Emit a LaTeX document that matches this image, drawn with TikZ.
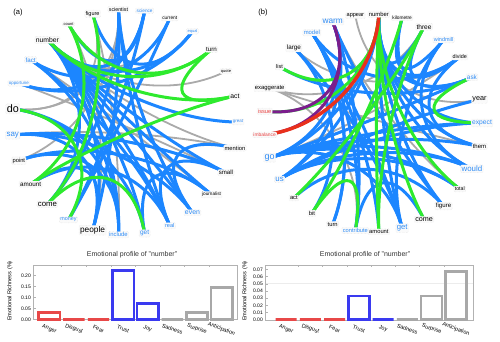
\documentclass[tikz,border=0pt]{standalone}
\usepackage{fontspec}
\setmainfont{Liberation Sans}
\usetikzlibrary{calc}
\definecolor{edgeb}{HTML}{1C86FF}
\definecolor{edgeg}{HTML}{2EEA2E}
\definecolor{edgey}{HTML}{AAAAAA}
\definecolor{edger}{HTML}{E8301C}
\definecolor{edgep}{HTML}{7B1E8C}
\definecolor{txtb}{HTML}{2F8CF5}
\definecolor{txtr}{HTML}{E84040}
\definecolor{barr}{HTML}{E84848}
\definecolor{barb}{HTML}{3A3AF0}
\definecolor{barg}{HTML}{A8A8A8}
\tikzset{
  eb/.style={edgeb,line width=3pt},
  eg/.style={edgeg,line width=3pt},
  ey/.style={edgey,line width=1.8pt},
  er/.style={edger,line width=3.5pt},
  ep/.style={edgep,line width=3pt},
  lab/.style={fill=gray!4,draw=gray!25,densely dotted,rounded corners=1pt,inner sep=1pt},
  barst/.style={line width=2.6pt},
  frm/.style={gray!60,line width=0.4pt},
  yl/.style={font=\fontsize{5}{5}\selectfont,anchor=east,inner sep=1pt},
  xl/.style={font=\fontsize{5.5}{5.5}\selectfont,rotate=-20,inner sep=0pt},
  ttl/.style={font=\fontsize{7}{7}\selectfont,text=black!80},
  yax/.style={font=\fontsize{5.6}{5.6}\selectfont,rotate=90}
}
\begin{document}
\begin{tikzpicture}[x=1pt,y=1pt]
\useasboundingbox (0,0) rectangle (500,341);
\coordinate (ca) at (125,219);
\coordinate (cb) at (373,218);
\foreach \k in {0,...,26} \path (ca) ++({\k*360/27}:113) coordinate (a\k);
\foreach \k in {0,...,28} \path (cb) ++({\k*360/29}:109) coordinate (b\k);
% panel (a)
\foreach \u/\v in {10/2,10/26,10/5,7/13,19/9,24/11,25/12,26/14,13/8,15/7,20/8}
  \draw[ey] (a\u) .. controls ($(a\u)!.55!(ca)$) and ($(a\v)!.55!(ca)$) .. (a\v);
\foreach \u/\v in {10/4,10/0,10/19,10/20,10/21,10/22,10/23,10/24,10/25,10/17,10/6,11/22,12/6,7/22,7/23,9/6,8/4,5/11,13/20,13/21,14/25,14/19,15/24,15/20,16/19,16/22,17/7,18/6,18/5,20/11,22/25,23/26,21/24,23/14,19/7,12/4}
  \draw[eb] (a\u) .. controls ($(a\u)!.55!(ca)$) and ($(a\v)!.55!(ca)$) .. (a\v);
\foreach \u/\v in {10/3,10/1,3/1,9/3,8/17,9/16,13/18,17/21,1/16}
  \draw[eg] (a\u) .. controls ($(a\u)!.55!(ca)$) and ($(a\v)!.55!(ca)$) .. (a\v);
% panel (b)
\foreach \u/\v in {8/1,13/5,11/3,3/16,28/13,13/21,9/26}
  \draw[ey] (b\u) .. controls ($(b\u)!.55!(cb)$) and ($(b\v)!.55!(cb)$) .. (b\v);
\foreach \u/\v in {7/5,7/3,7/2,7/0,7/27,7/23,7/25,7/28,7/16,7/17,6/4,6/2,5/3,10/21,10/20,10/23,9/16,9/17,9/21,11/19,16/28,16/27,16/0,17/27,17/26,18/25,21/24,23/16,23/11,22/10,25/9,27/4,28/3,26/16,0/17,3/10,2/16,1/17,20/10,23/4,12/2}
  \draw[eb] (b\u) .. controls ($(b\u)!.55!(cb)$) and ($(b\v)!.55!(cb)$) .. (b\v);
\foreach \u/\v in {12/7,14/7,7/22,7/24,18/5,19/6,26/7,2/0,19/21,22/5}
  \draw[eg] (b\u) .. controls ($(b\u)!.55!(cb)$) and ($(b\v)!.55!(cb)$) .. (b\v);
\foreach \u/\v in {9/14,9/15}
  \draw[ep] (b\u) .. controls ($(b\u)!.55!(cb)$) and ($(b\v)!.55!(cb)$) .. (b\v);
\draw[er] (b7) .. controls ($(b7)!.55!(cb)$) and ($(b15)!.55!(cb)$) .. (b15);
% word labels
\foreach \k/\w/\sz/\c in {0/great/4.4/txtb,1/act/6.8/black,2/quote/4/black,3/turn/6.2/black,4/equal/4/txtb,5/current/4.8/black,6/science/4.7/txtb,7/scientist/5.3/black,8/figure/5.5/black,9/count/4/black,10/number/6.8/black,11/fact/6.2/txtb,12/opportune/4.4/txtb,13/do/10.8/black,14/say/7.9/txtb,15/point/5.8/black,16/amount/6.3/black,17/come/7.8/black,18/money/5.4/txtb,19/people/8.3/black,20/include/5.9/txtb,21/get/6.5/txtb,22/real/5.6/txtb,23/even/6.9/txtb,24/journalist/4.7/black,25/small/6.1/black,26/mention/5.8/black}
  \node[lab,text=\c,font=\fontsize{\sz}{\sz}\selectfont] (la\k) at (a\k) {\w};
\foreach \k/\w/\sz/\c in {0/expect/6.7/txtb,1/year/7.2/black,2/ask/6.4/txtb,3/divide/5.4/black,4/windmill/5.5/txtb,5/three/6.6/black,6/kilometre/4.8/black,7/number/5.9/black,8/appear/5.6/black,9/warm/8.3/txtb,10/model/5.9/txtb,11/large/6.3/black,12/list/5.5/black,13/exaggerate/5.9/black,14/issue/5.7/txtr,15/imbalance/4.9/txtr,16/go/9/txtb,17/us/7.9/txtb,18/act/5.8/black,19/bit/5.8/black,20/turn/5.8/black,21/contribute/5.7/txtb,22/amount/5.8/black,23/get/7.7/txtb,24/come/7.2/black,25/figure/6.1/black,26/total/5.2/black,27/would/7.9/txtb,28/them/6/black}
  \node[lab,text=\c,font=\fontsize{\sz}{\sz}\selectfont] (lb\k) at (b\k) {\w};
\node[font=\fontsize{7.5}{7.5}\selectfont] (pa) at (18,328) {(a)};
\node[font=\fontsize{7.5}{7.5}\selectfont] (pb) at (263,328) {(b)};
% bar chart (a)
\node[ttl] (ta) at (132,86) {Emotional profile of "number"};
\node[yax] (ya) at (10,50) {Emotional Richness (\%)};
\draw[frm] (33,21.7) rectangle (237,76);
\foreach \t in {0.00,0.05,0.10,0.15,0.20} {
  \node[yl] (ta\t) at (32,{21.7+220*\t}) {\t};
  \draw[frm] (33,{21.7+220*\t}) -- ++(2.5,0);
}
\foreach \i in {1,...,7} \draw[frm] ({37+\i*24.6},76) -- ++(0,-2);
\foreach \i/\val/\c in {0/0.038/barr,1/0/barr,2/0/barr,3/0.227/barb,4/0.077/barb,5/0/barg,6/0.038/barg,7/0.151/barg}
  \draw[barst,\c] ({37+\i*24.6+1.6},21.7) rectangle ({37+(\i+1)*24.6-1.6},{21.7+max(220*\val-1.3,0)});
\foreach \i/\n in {0/Anger,1/Disgust,2/Fear,3/Trust,4/Joy,5/Sadness,6/Surprise,7/Anticipation}
  \node[xl] (xa\i) at ({37+(\i+0.5)*24.6},12) {\n};
% bar chart (b)
\node[ttl] (tb) at (365,86) {Emotional profile of "number"};
\node[yax] (yb) at (245,50) {Emotional Richness (\%)};
\draw[gray!15,line width=0.6pt] (265,{21.3+720*0.05}) -- (473,{21.3+720*0.05});
\draw[frm] (265,21.3) rectangle (473,76);
\foreach \t in {0.00,0.01,0.02,0.03,0.04,0.05,0.06,0.07} {
  \node[yl] (tb\t) at (264,{21.3+720*\t}) {\t};
  \draw[frm] (265,{21.3+720*\t}) -- ++(2.5,0);
}
\foreach \i in {1,...,7} \draw[frm] ({274+\i*24.25},76) -- ++(0,-2);
\foreach \i/\val/\c in {0/0/barr,1/0/barr,2/0/barr,3/0.035/barb,4/0/barb,5/0/barg,6/0.035/barg,7/0.069/barg}
  \draw[barst,\c] ({274+\i*24.25+1.6},21.3) rectangle ({274+(\i+1)*24.25-1.6},{21.3+max(720*\val-1.3,0)});
\foreach \i/\n in {0/Anger,1/Disgust,2/Fear,3/Trust,4/Joy,5/Sadness,6/Surprise,7/Anticipation}
  \node[xl] (xb\i) at ({274+(\i+0.5)*24.25},12) {\n};
\end{tikzpicture}
\end{document}
